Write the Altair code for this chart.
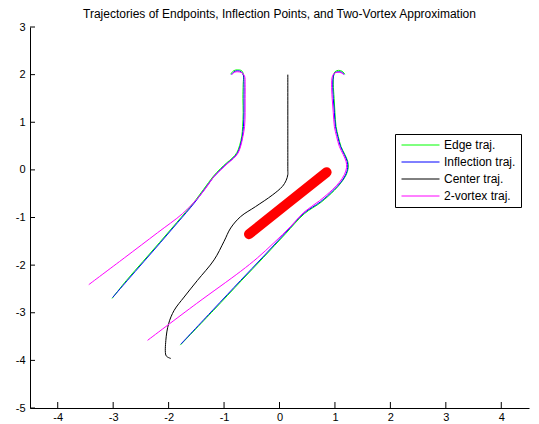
import altair as alt
import pandas as pd

# ---- data ----
edge_left_x = [-0.88, -0.83, -0.76, -0.68, -0.65, -0.655, -0.66, -0.655, -0.665, -0.68, -0.72, -0.77, -0.85, -0.95, -1.07, -1.19, -1.37, -1.55, -1.85, -2.16, -2.46, -2.76, -3.02]
edge_left_y = [2.01, 2.08, 2.10, 2.08, 1.99, 1.80, 1.50, 1.20, 0.91, 0.71, 0.51, 0.36, 0.25, 0.15, 0.02, -0.13, -0.41, -0.69, -1.10, -1.52, -1.92, -2.32, -2.70]
edge_right_x = [1.18, 1.13, 1.06, 1.00, 0.975, 0.97, 0.985, 1.00, 1.02, 1.06, 1.11, 1.18, 1.23, 1.24, 1.20, 1.11, 0.99, 0.75, 0.45, 0.11, -0.29, -0.69, -1.19, -1.79]
edge_right_y = [2.01, 2.07, 2.09, 2.06, 1.97, 1.80, 1.50, 1.20, 0.91, 0.70, 0.49, 0.32, 0.18, 0.05, -0.11, -0.27, -0.43, -0.68, -0.92, -1.34, -1.84, -2.33, -2.95, -3.68]

infl_left_x = [-0.87, -0.82, -0.76, -0.69, -0.65, -0.64, -0.64, -0.64, -0.65, -0.67, -0.71, -0.76, -0.84, -0.94, -1.06, -1.18, -1.36, -1.54, -1.84, -2.15, -2.45, -2.75, -3.01]
infl_left_y = [2.00, 2.06, 2.08, 2.06, 1.98, 1.80, 1.50, 1.20, 0.91, 0.70, 0.50, 0.35, 0.24, 0.14, 0.01, -0.14, -0.42, -0.70, -1.11, -1.53, -1.93, -2.33, -2.68]
infl_right_x = [1.17, 1.12, 1.06, 1.00, 0.97, 0.96, 0.97, 0.99, 1.01, 1.05, 1.10, 1.17, 1.22, 1.23, 1.19, 1.10, 0.98, 0.74, 0.44, 0.10, -0.30, -0.70, -1.20, -1.78]
infl_right_y = [2.00, 2.05, 2.06, 2.04, 1.96, 1.80, 1.50, 1.20, 0.91, 0.70, 0.49, 0.32, 0.18, 0.05, -0.11, -0.27, -0.42, -0.67, -0.91, -1.33, -1.83, -2.32, -2.94, -3.66]

center_x = [0.15, 0.15, 0.15, 0.15, 0.12, 0.05, -0.13, -0.43, -0.70, -0.88, -1.00, -1.18, -1.48, -1.72, -1.90, -2.00, -2.05, -2.05, -2.02, -1.96]
center_y = [2.00, 1.00, 0.00, -0.10, -0.22, -0.35, -0.53, -0.77, -0.98, -1.22, -1.50, -1.89, -2.32, -2.67, -2.95, -3.23, -3.58, -3.89, -3.93, -3.96]

vortex_left_x = [-0.86, -0.81, -0.75, -0.68, -0.63, -0.62, -0.62, -0.62, -0.63, -0.66, -0.70, -0.75, -0.83, -0.93, -1.05, -1.18, -1.34, -1.48, -1.75, -2.20, -2.80, -3.44]
vortex_left_y = [2.00, 2.05, 2.06, 2.04, 1.97, 1.80, 1.50, 1.20, 0.91, 0.70, 0.50, 0.35, 0.24, 0.14, 0.01, -0.14, -0.40, -0.60, -0.92, -1.32, -1.85, -2.41]
vortex_right_x = [1.16, 1.11, 1.05, 0.99, 0.95, 0.94, 0.95, 0.97, 0.99, 1.03, 1.08, 1.15, 1.20, 1.21, 1.17, 1.08, 0.96, 0.72, 0.44, 0.20, -0.10, -0.40, -0.70, -1.50, -2.38]
vortex_right_y = [2.00, 2.04, 2.05, 2.03, 1.95, 1.80, 1.50, 1.20, 0.91, 0.70, 0.49, 0.32, 0.18, 0.05, -0.10, -0.26, -0.41, -0.65, -0.89, -1.19, -1.53, -1.85, -2.13, -2.81, -3.58]

red_x = [-0.55, 0.15, 0.85]
red_y = [-1.35, -0.70, -0.05]

series_names = ["Edge traj.", "Inflection traj.", "Center traj.", "2-vortex traj."]
series_colors = ["#00ff00", "#0000ff", "#000000", "#ff00ff"]

x_ticks = [-4, -3, -2, -1, 0, 1, 2, 3, 4]
y_ticks = [-5, -4, -3, -2, -1, 0, 1, 2, 3]

title_text = "Trajectories of Endpoints, Inflection Points, and Two-Vortex Approximation"

# ---- build tables ----
rows = []
def add(series, part, xs, ys):
    for i, (x, y) in enumerate(zip(xs, ys)):
        rows.append({"series": series, "part": part, "i": i, "x": x, "y": y})

add(series_names[0], "L", edge_left_x, edge_left_y)
add(series_names[0], "R", edge_right_x, edge_right_y)
add(series_names[1], "L", infl_left_x, infl_left_y)
add(series_names[1], "R", infl_right_x, infl_right_y)
add(series_names[2], "C", center_x, center_y)
add(series_names[3], "L", vortex_left_x, vortex_left_y)
add(series_names[3], "R", vortex_right_x, vortex_right_y)
df = pd.DataFrame(rows)

red_df = pd.DataFrame({"x": red_x, "y": red_y, "i": list(range(len(red_x)))})
xt_df = pd.DataFrame({"x": x_ticks})
yt_df = pd.DataFrame({"y": y_ticks})

W, H = 499, 381
FONT = "Liberation Sans"

xscale = alt.Scale(domain=[-4.5, 4.5], nice=False, zero=False)
yscale = alt.Scale(domain=[-5, 3], nice=False, zero=False)
xaxis = alt.Axis(values=x_ticks, ticks=False, tickSize=0, labelPadding=3, grid=False,
                 labelExpr="'' + datum.value",
                 domainColor="black", labelColor="black", labelFont=FONT, labelFontSize=11)
yaxis = alt.Axis(values=y_ticks, ticks=False, tickSize=0, labelPadding=5, grid=False,
                 labelExpr="'' + datum.value",
                 domainColor="black", labelColor="black", labelFont=FONT, labelFontSize=11)

legend = alt.Legend(orient="none", legendX=365, legendY=107, title=None,
                    symbolType="stroke", symbolSize=1444, symbolStrokeWidth=1,
                    clipHeight=12, rowPadding=5, padding=5,
                    strokeColor="black", fillColor="white",
                    labelFont=FONT, labelFontSize=12, labelColor="black",
                    labelOffset=4, symbolOffset=1)

color = alt.Color("series:N", scale=alt.Scale(domain=series_names, range=series_colors),
                  legend=legend)

base = alt.Chart(df)
layers = []
for idx, name in enumerate(series_names):
    layers.append(
        base.transform_filter(alt.datum.series == name)
        .mark_line(strokeWidth=1, interpolate="catmull-rom")
        .encode(
            x=alt.X("x:Q", scale=xscale, axis=xaxis, title=None),
            y=alt.Y("y:Q", scale=yscale, axis=yaxis, title=None),
            color=color,
            detail="part:N",
            order=alt.Order("i:Q"),
        )
    )

red = alt.Chart(red_df).mark_line(color="#ff0000", strokeWidth=10, strokeCap="round").encode(
    x=alt.X("x:Q", scale=xscale),
    y=alt.Y("y:Q", scale=yscale),
    order=alt.Order("i:Q"),
)

xt = alt.Chart(xt_df).mark_rule(color="black", strokeWidth=1).encode(
    x=alt.X("x:Q", scale=xscale),
    y=alt.value(H),
    y2=alt.value(H - 6),
)
yt = alt.Chart(yt_df).mark_rule(color="black", strokeWidth=1).encode(
    y=alt.Y("y:Q", scale=yscale),
    x=alt.value(0),
    x2=alt.value(5),
)

chart = alt.layer(*layers, red, xt, yt).properties(
    width=W, height=H,
    title=alt.TitleParams(title_text, font=FONT, fontSize=12, fontWeight="normal",
                          color="black", anchor="middle", offset=0),
    autosize=alt.AutoSizeParams(type="none"),
    padding={"left": 30, "top": 27, "right": 10, "bottom": 16},
    background="white",
).configure_view(strokeWidth=0)

chart.save("out.html", embed_options={"renderer": "svg", "actions": False})
